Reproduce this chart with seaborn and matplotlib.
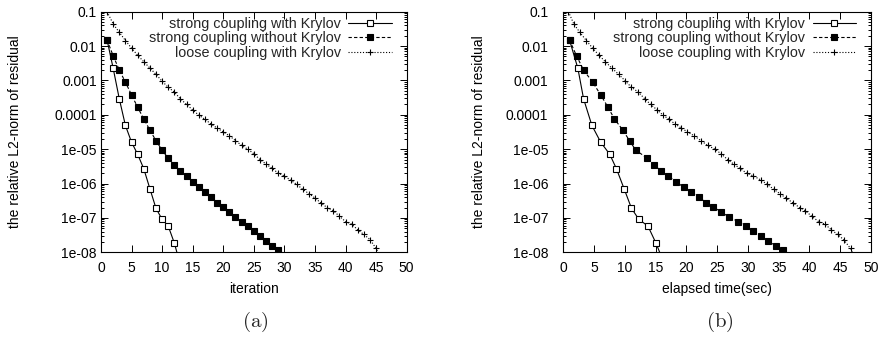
import numpy as np
import pandas as pd
import matplotlib
matplotlib.use("Agg")
import matplotlib.pyplot as plt
import seaborn as sns

# ---- data ----
# relative L2-norm of residual per iteration (same histories in both panels)
# last value of each list lies below 1e-8 (line runs out of the frame)
strong_krylov_res = [1.5e-2, 2.24e-3, 2.9e-4, 4.9e-5, 1.6e-5, 7.1e-6, 2.7e-6,
                     7.1e-7, 1.9e-7, 9.1e-8, 5.8e-8, 1.86e-8, 4.2e-9]
strong_plain_res = [1.5e-2, 5.2e-3, 2.0e-3, 8.9e-4, 3.8e-4, 1.66e-4, 7.6e-5,
                    3.6e-5, 1.77e-5, 9.3e-6, 5.5e-6, 3.5e-6, 2.3e-6, 1.65e-6,
                    1.13e-6, 7.7e-7, 5.5e-7, 4.0e-7, 2.8e-7, 2.1e-7, 1.48e-7,
                    1.07e-7, 7.8e-8, 5.7e-8, 4.1e-8, 2.95e-8, 2.17e-8, 1.55e-8,
                    1.17e-8, 7.5e-9]
loose_krylov_res = [1.0e-1, 4.4e-2, 2.5e-2, 1.45e-2, 8.7e-3, 5.4e-3, 3.5e-3,
                    2.3e-3, 1.5e-3, 9.5e-4, 6.3e-4, 4.6e-4, 2.9e-4, 2.0e-4,
                    1.38e-4, 9.8e-5, 7.4e-5, 5.4e-5, 4.1e-5, 3.2e-5, 2.45e-5,
                    1.78e-5, 1.29e-5, 1.0e-5, 7.4e-6, 5.0e-6, 3.7e-6, 2.75e-6,
                    2.0e-6, 1.66e-6, 1.26e-6, 9.5e-7, 6.8e-7, 5.1e-7, 3.8e-7,
                    2.7e-7, 2.0e-7, 1.62e-7, 1.12e-7, 7.8e-8, 6.6e-8, 4.5e-8,
                    3.3e-8, 2.35e-8, 1.29e-8, 6.0e-9]

# panel (a): iteration numbers
strong_krylov_iter = list(range(1, 14))
strong_plain_iter = list(range(1, 31))
loose_krylov_iter = list(range(1, 47))

# panel (b): elapsed time (sec)
strong_krylov_time = [0.98, 2.34, 3.27, 4.62, 6.05, 7.52, 8.61, 9.85, 11.06,
                      12.25, 13.73, 15.03, 16.5]
strong_plain_time = [0.98, 2.12, 3.27, 4.74, 6.05, 7.24, 8.28, 9.64, 10.74,
                     11.76, 13.61, 14.71, 15.90, 17.04, 18.30, 19.61, 20.80,
                     22.01, 23.20, 24.35, 25.65, 26.91, 28.43, 29.62, 30.83,
                     32.14, 33.28, 34.48, 35.67, 36.9]
loose_krylov_time = [0.8, 1.68, 2.66, 3.71, 4.74, 5.77, 6.81, 7.84, 8.99,
                     10.08, 11.06, 12.14, 13.24, 14.17, 15.25, 16.18, 17.16,
                     18.14, 19.17, 20.15, 21.24, 22.34, 23.42, 24.62, 25.6,
                     26.68, 27.66, 28.71, 29.79, 30.88, 32.14, 33.12, 34.2,
                     35.18, 36.16, 37.37, 38.4, 39.33, 40.36, 41.5, 42.48,
                     43.58, 44.56, 45.54, 46.68, 47.5]

series_labels = ["strong coupling with Krylov",
                 "strong coupling without Krylov",
                 "loose coupling with Krylov"]
y_ticks = [1e-1, 1e-2, 1e-3, 1e-4, 1e-5, 1e-6, 1e-7, 1e-8]
y_tick_labels = ["0.1", "0.01", "0.001", "0.0001", "1e-05", "1e-06", "1e-07", "1e-08"]
x_ticks = [0, 5, 10, 15, 20, 25, 30, 35, 40, 45, 50]

# ---- style ----
sns.set_theme(style="ticks")
plt.rcParams["font.family"] = ["Liberation Sans", "DejaVu Sans"]
plt.rcParams["font.size"] = 10
plt.rcParams["mathtext.fontset"] = "cm"
plt.rcParams["axes.linewidth"] = 0.8
plt.rcParams["axes.edgecolor"] = "black"

styles = [
    dict(ls="-", marker="s", ms=4.4, mfc="white"),
    dict(ls=(0, (3, 2)), marker="s", ms=4.4, mfc="black"),
    dict(ls=(0, (1, 1.6)), marker="+", ms=5.0, mfc="black"),
]

fig = plt.figure(figsize=(8.81, 3.38), dpi=100)
ax_a = fig.add_axes([0.1146, 0.2536, 0.347, 0.7118])
ax_b = fig.add_axes([0.6396, 0.2536, 0.349, 0.7118])


def draw_panel(ax, xs_list, xlabel, ylab_x, tick_pad):
    res_list = [strong_krylov_res, strong_plain_res, loose_krylov_res]
    for xs, ys, lab, st in zip(xs_list, res_list, series_labels, styles):
        df = pd.DataFrame({"x": xs, "y": ys})
        sns.lineplot(data=df, x="x", y="y", ax=ax, color="black", lw=0.8,
                     linestyle=st["ls"], marker=st["marker"], ms=st["ms"],
                     markerfacecolor=st["mfc"], markeredgecolor="black",
                     mew=0.8, markevery=slice(0, len(xs) - 1), label=lab,
                     sort=False, estimator=None)
    ax.set_yscale("log")
    ax.set_xlim(0, 50)
    ax.set_ylim(1e-8, 1e-1)
    ax.set_xticks(x_ticks)
    ax.set_yticks(y_ticks)
    ax.set_yticklabels(y_tick_labels)
    ax.yaxis.set_minor_locator(matplotlib.ticker.LogLocator(base=10, subs=np.arange(2, 10)))
    ax.yaxis.set_minor_formatter(matplotlib.ticker.NullFormatter())
    ax.tick_params(which="both", direction="in", top=True, right=True,
                   color="black", width=0.7, labelsize=10, labelcolor="black")
    ax.tick_params(which="major", length=5)
    ax.tick_params(which="minor", length=2.5)
    ax.tick_params(axis="x", pad=6)
    ax.tick_params(axis="y", pad=tick_pad)
    ax.set_xlabel(xlabel, fontsize=10, color="black")
    ax.set_ylabel("the relative L2-norm of residual", fontsize=10, color="black")
    ax.xaxis.set_label_coords(0.5, -0.123)
    ax.yaxis.set_label_coords(ylab_x, 0.5)
    for sp in ax.spines.values():
        sp.set_visible(True)
        sp.set_color("black")
    ax.legend(loc="upper right", bbox_to_anchor=(0.951, 0.979), frameon=False,
              markerfirst=False, handlelength=3.0, handletextpad=0.5,
              labelspacing=0.05, borderaxespad=0.0, borderpad=0.0,
              fontsize=10.4)


draw_panel(ax_a, [strong_krylov_iter, strong_plain_iter, loose_krylov_iter],
           "iteration", -0.258, 3)
draw_panel(ax_b, [strong_krylov_time, strong_plain_time, loose_krylov_time],
           "elapsed time(sec)", -0.251, 11)

fig.text(255 / 881, 1 - 322 / 338, r"$\mathrm{(a)}$", fontsize=15,
         ha="center", va="center")
fig.text(720 / 881, 1 - 322 / 338, r"$\mathrm{(b)}$", fontsize=15,
         ha="center", va="center")

fig.savefig("out.png", dpi=100)
